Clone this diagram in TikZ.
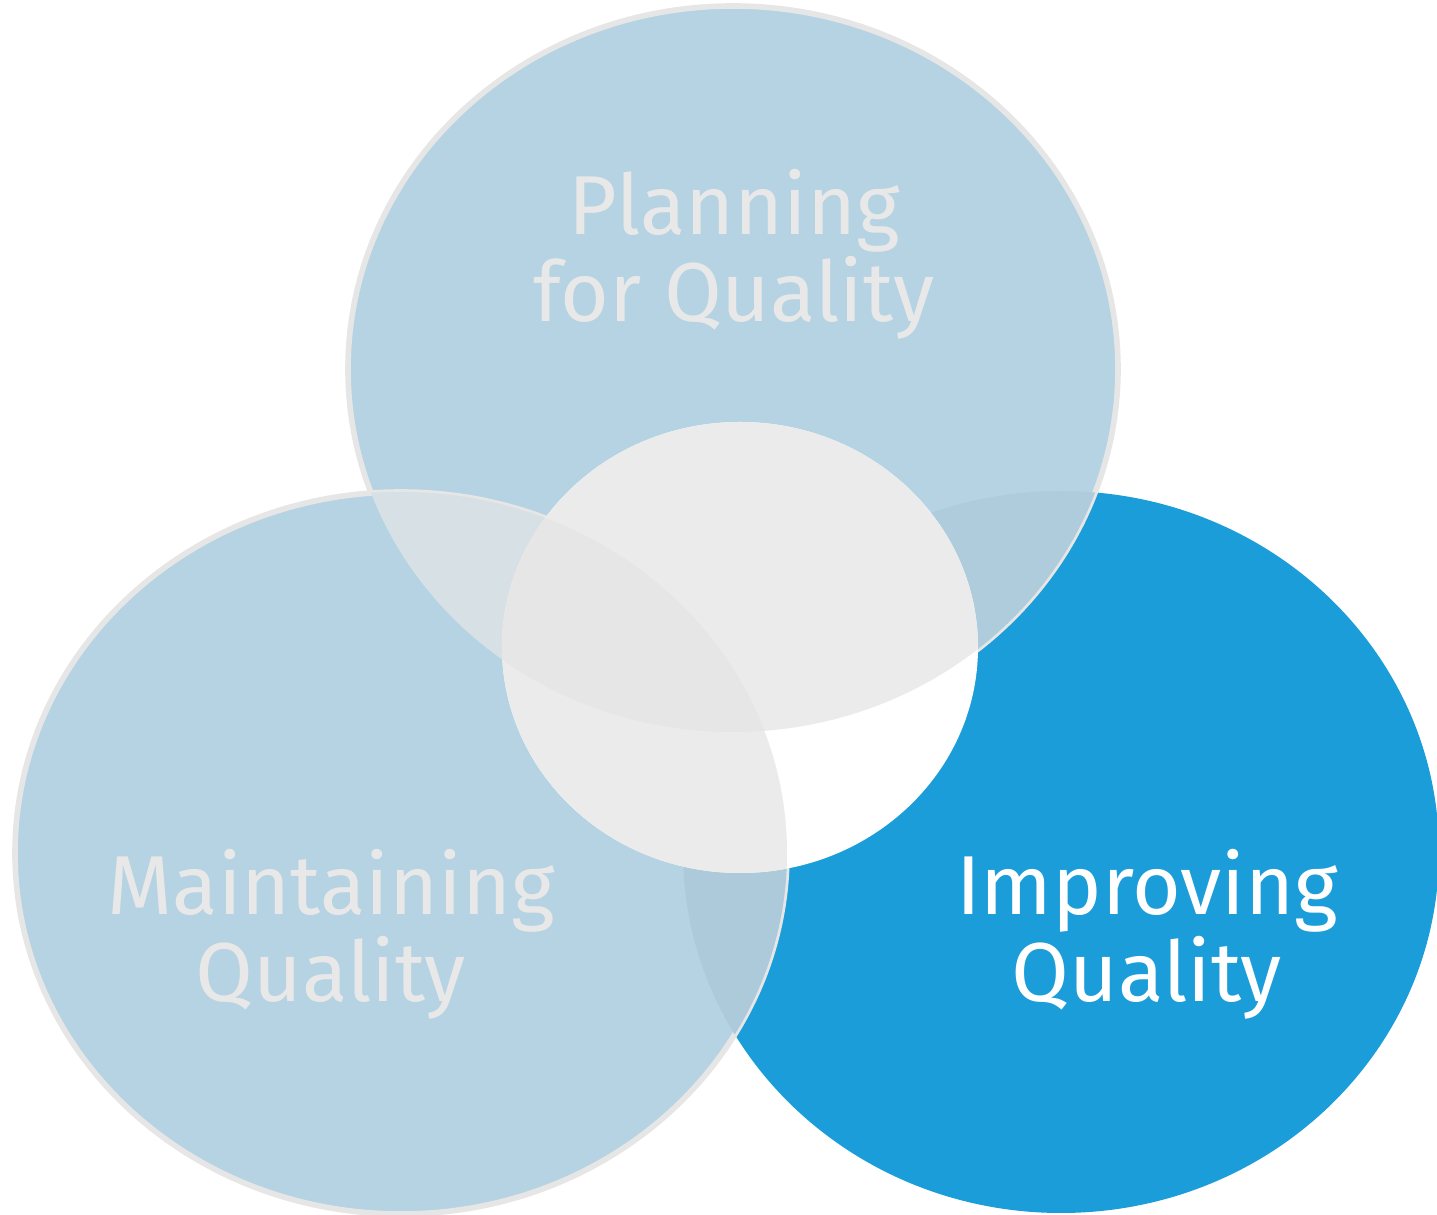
\documentclass[tikz,border=0pt]{standalone}
\usepackage{fontspec}
\setmainfont{Fira Sans}
\usepackage{tikz}
\usetikzlibrary{positioning}

\definecolor{improveblue}{RGB}{27,157,217}
\definecolor{paleblue}{RGB}{181,211,226}
\definecolor{rimgray}{RGB}{230,230,230}
\definecolor{topright}{RGB}{175,204,221}
\definecolor{leftright}{RGB}{173,202,219}
\definecolor{topleft}{RGB}{214,224,229}
\definecolor{coregray}{RGB}{235,235,235}
\definecolor{coredark}{RGB}{230,230,230}
\definecolor{labelgray}{RGB}{232,232,232}

\begin{document}
\begin{tikzpicture}[
	label/.style={align=center, inner sep=0pt, font=\fontsize{23.8}{24.8}\selectfont},
	rim/.style={draw=rimgray, line width=1.6pt}]
	\useasboundingbox (0,0) rectangle (14.37,12.15);
	% the three circles
	\def\toppath{(7.33,8.46) ellipse [x radius=3.85, y radius=3.63]}
	\def\leftpath{(4.01,3.62) ellipse [x radius=3.86, y radius=3.61]}
	\def\rightpath{(10.61,3.63) ellipse [x radius=3.78, y radius=3.61]}
	\def\corepath{(7.40,5.675) ellipse [x radius=2.38, y radius=2.255]}
	\fill[improveblue] \rightpath;
	\path[rim, fill=paleblue] \toppath;
	\path[rim, fill=paleblue] \leftpath;
	% overlaps
	\begin{scope}
		\clip \toppath;
		\fill[topright] \rightpath;
		\fill[topleft] \leftpath;
	\end{scope}
	\begin{scope}
		\clip \leftpath;
		\fill[leftright] \rightpath;
	\end{scope}
	% centre
	\fill[white] \corepath;
	\begin{scope}
		\clip \corepath;
		\fill[coregray] \toppath;
		\fill[coregray] \leftpath;
		\clip \toppath;
		\fill[coredark] \leftpath;
	\end{scope}
	% labels (base = last line)
	\node[label, text=labelgray, anchor=base] (plan) at (7.34,8.93) {Planning\\for Quality};
	\node[label, text=labelgray, anchor=base] (maint) at (3.31,2.13) {Maintaining\\Quality};
	\node[label, text=white, anchor=base] (improve) at (11.47,2.13) {Improving\\Quality};
\end{tikzpicture}
\end{document}
